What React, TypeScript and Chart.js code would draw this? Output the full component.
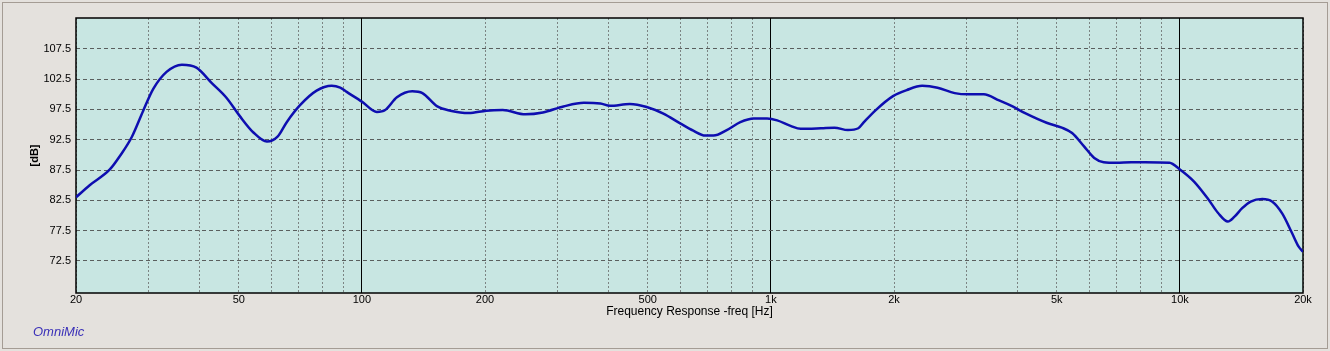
import React, { useEffect, useRef } from 'react';
import { Chart, registerables } from 'chart.js';

Chart.register(...registerables);

// ---- data ----
const freqHz = [
  20, 21.6, 24.2, 25.6, 27.4, 29.2, 30.9, 33.3, 36.3, 39.4, 42.9, 46.7, 50.3, 54.3, 58.6, 62.2, 65.5, 70.6,
  77.5, 84.4, 88.5, 91.8, 100, 108.8, 114, 121.8, 132.8, 140.6, 152.9, 164.6, 182.5, 201.6, 221, 251, 277,
  311, 349, 383, 404, 452, 497, 546, 600, 646, 691, 724, 780, 842, 908, 979, 1036, 1117, 1183, 1326, 1430,
  1543, 1636, 1688, 1805, 1989, 2148, 2343, 2556, 2815, 3038, 3314, 3614, 3899, 4208, 4722, 5144, 5451,
  5830, 6175, 6512, 7000, 7605, 8223, 9433, 10000, 10830, 11700, 12400, 13100, 13600, 14200, 14900, 15900,
  16800, 17800, 18800, 19500, 20000,
];
const splDb = [
  83.0, 85.0, 87.6, 89.8, 93.0, 97.3, 100.9, 103.7, 104.9, 104.4, 101.9, 99.4, 96.4, 93.7, 92.2, 93.0, 95.4, 98.2,
  100.6, 101.4, 101.1, 100.4, 98.8, 97.1, 97.4, 99.5, 100.5, 100.2, 98.0, 97.3, 96.9, 97.3, 97.4, 96.7, 97.0,
  98.0, 98.6, 98.5, 98.1, 98.4, 97.9, 96.8, 95.2, 94.0, 93.2, 93.2, 94.1, 95.4, 96.0, 96.0, 95.7, 94.8, 94.3, 94.4, 94.5,
  94.1, 94.4, 95.4, 97.4, 99.7, 100.7, 101.4, 101.1, 100.2, 100.0, 100.0, 99.0, 98.0, 96.8, 95.3, 94.5, 93.6,
  91.4, 89.5, 88.8, 88.7, 88.8, 88.8, 88.7, 87.6, 85.6, 82.8, 80.4, 79.0, 79.8, 81.2, 82.3, 82.7,
  82.3, 80.3, 77.1, 74.9, 74.0,
];

const xGridHz = [
  20, 30, 40, 50, 60, 70, 80, 90, 100, 200, 300, 400, 500, 600, 700, 800, 900, 1000,
  2000, 3000, 4000, 5000, 6000, 7000, 8000, 9000, 10000, 20000,
];
const xMajorHz = [100, 1000, 10000];
const xLabelHz = [20, 50, 100, 200, 500, 1000, 2000, 5000, 10000, 20000];
const xLabelText = ['20', '50', '100', '200', '500', '1k', '2k', '5k', '10k', '20k'];
const yTicksDb = [72.5, 77.5, 82.5, 87.5, 92.5, 97.5, 102.5, 107.5];

const FONT = "'Liberation Sans', Arial, sans-serif";

const framePlugin = {
  id: 'frame',
  beforeDraw(chart: any) {
    const { ctx, chartArea: a, width, height } = chart;
    ctx.save();
    ctx.fillStyle = '#E4E1DD';
    ctx.fillRect(0, 0, width, height);
    ctx.strokeStyle = '#A49C94';
    ctx.lineWidth = 1;
    ctx.strokeRect(2.5, 2.5, width - 5, height - 5);
    ctx.fillStyle = '#C8E6E2';
    ctx.fillRect(a.left, a.top, a.right - a.left, a.bottom - a.top);
    ctx.restore();
  },
  beforeDatasetsDraw(chart: any) {
    const { ctx, chartArea: a } = chart;
    ctx.save();
    ctx.strokeStyle = '#000';
    ctx.lineWidth = 1.5;
    ctx.strokeRect(a.left, a.top, a.right - a.left, a.bottom - a.top);
    ctx.restore();
  },
};

export default function App() {
  const ref = useRef<HTMLCanvasElement | null>(null);

  useEffect(() => {
    document.body.style.margin = '0';
    const canvas = ref.current;
    if (!canvas) return;
    const chart = new Chart(canvas, {
      type: 'line',
      data: {
        datasets: [
          {
            data: freqHz.map((f, i) => ({ x: f, y: splDb[i] })),
            borderColor: '#0E0EB0',
            borderWidth: 2.5,
            pointRadius: 0,
            cubicInterpolationMode: 'monotone',
            fill: false,
          },
        ],
      },
      options: {
        animation: false,
        responsive: false,
        devicePixelRatio: 1,
        layout: { padding: { left: 0, top: 18, right: 27, bottom: 0 } },
        plugins: { legend: { display: false }, tooltip: { enabled: false } },
        scales: {
          x: {
            type: 'logarithmic',
            min: 20,
            max: 20000,
            afterBuildTicks: (scale: any) => {
              scale.ticks = xGridHz.map((v) => ({ value: v, major: xMajorHz.includes(v) }));
            },
            afterFit: (scale: any) => {
              scale.height = 58;
            },
            ticks: {
              autoSkip: false,
              maxRotation: 0,
              padding: 0,
              color: '#000',
              font: { family: FONT, size: 11 },
              callback: (value: any) => {
                const i = xLabelHz.indexOf(Number(value));
                return i >= 0 ? xLabelText[i] : '';
              },
            },
            grid: {
              drawTicks: false,
              color: (c: any) => (c.tick && xMajorHz.includes(c.tick.value) ? '#000000' : '#7C8483'),
              lineWidth: 1,
            },
            border: {
              display: false,
              dash: (c: any) => (c.tick && !xMajorHz.includes(c.tick.value) ? [2, 2] : []),
            },
            title: {
              display: true,
              text: 'Frequency Response -freq [Hz]',
              color: '#000',
              font: { family: FONT, size: 12 },
              padding: { top: 0, bottom: 32 },
            },
          },
          y: {
            type: 'linear',
            min: 67.2,
            max: 112.6,
            afterBuildTicks: (scale: any) => {
              scale.ticks = yTicksDb.map((v) => ({ value: v }));
            },
            afterFit: (scale: any) => {
              scale.width = 76;
            },
            ticks: {
              padding: 5,
              color: '#000',
              font: { family: FONT, size: 11 },
              callback: (value: any) => Number(value).toFixed(1),
            },
            grid: {
              drawTicks: false,
              color: '#5A5F5E',
              lineWidth: 1,
            },
            border: { display: false, dash: [4, 3] },
            title: {
              display: true,
              text: '[dB]',
              color: '#000',
              font: { family: FONT, size: 11, weight: 'bold' },
              padding: { top: 28, bottom: 0 },
            },
          },
        },
      },
      plugins: [framePlugin],
    } as any);
    return () => chart.destroy();
  }, []);

  return (
    <div style={{ position: 'relative', width: 1330, height: 351 }}>
      <canvas ref={ref} width={1330} height={351} style={{ display: 'block' }} />
      <div
        style={{
          position: 'absolute',
          left: 33,
          top: 324,
          fontFamily: FONT,
          fontStyle: 'italic',
          fontSize: 13,
          color: '#3A30B8',
          lineHeight: '16px',
        }}
      >
        OmniMic
      </div>
    </div>
  );
}
